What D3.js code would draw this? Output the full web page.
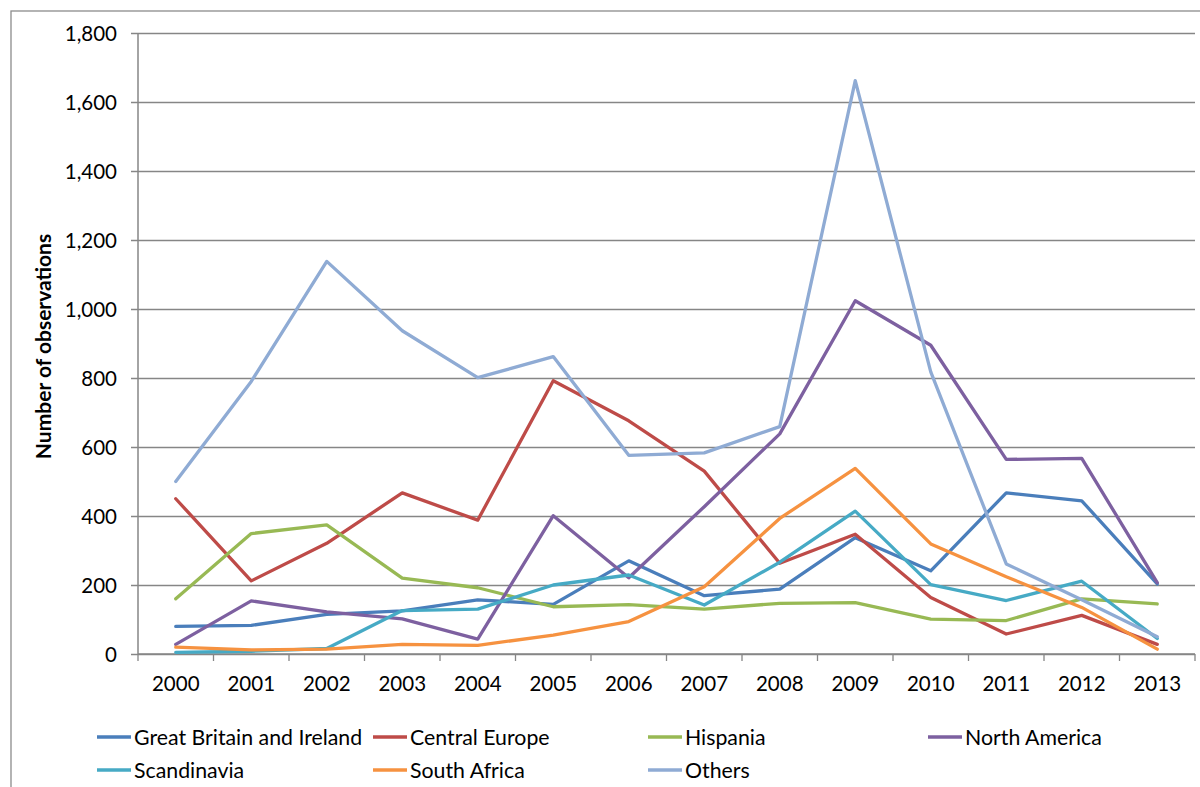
<!DOCTYPE html>
<html>
<head>
<meta charset="utf-8">
<script src="https://cdn.jsdelivr.net/npm/d3@7"></script>
<style>
  html, body { margin: 0; padding: 0; background: #fff; }
  svg { display: block; font-family: Lato, "Open Sans", sans-serif; }
</style>
</head>
<body>
<svg id="chart" width="1200" height="787"></svg>
<script>
// Observations per region, 2000–2013
const years = ["2000","2001","2002","2003","2004","2005","2006","2007","2008","2009","2010","2011","2012","2013"];
const seriesNames = ["Great Britain and Ireland","Central Europe","Hispania","North America","Scandinavia","South Africa","Others"];
const seriesColors = ["#4A7EBB","#BE4B48","#98B954","#7D60A0","#46AAC5","#F69240","#8FABD4"];

const greatBritainIreland = [80, 83, 115, 125, 157, 144, 270, 169, 188, 337, 241, 467, 444, 203];
const centralEurope       = [450, 212, 321, 467, 388, 792, 676, 530, 263, 347, 164, 58, 112, 28];
const hispania            = [160, 349, 374, 220, 192, 137, 143, 130, 147, 149, 101, 97, 160, 145];
const northAmerica        = [28, 154, 122, 102, 43, 401, 221, 427, 638, 1024, 895, 564, 567, 207];
const scandinavia         = [5, 8, 16, 126, 130, 200, 229, 142, 266, 414, 201, 155, 211, 45];
const southAfrica         = [20, 12, 14, 28, 25, 55, 94, 195, 393, 538, 319, 224, 135, 14];
const others              = [500, 790, 1138, 937, 801, 862, 576, 583, 659, 1662, 818, 261, 157, 50];

const yTicks = [0, 200, 400, 600, 800, 1000, 1200, 1400, 1600, 1800];
const yTitle = "Number of observations";

const seriesValues = [greatBritainIreland, centralEurope, hispania, northAmerica, scandinavia, southAfrica, others];
const series = seriesNames.map((name, i) => ({ name, color: seriesColors[i], values: seriesValues[i] }));

const svg = d3.select("#chart");
const plot = { left: 138, right: 1195, top: 33, bottom: 654 };
const axisGrey = "#868686";
const labelSize = 20.5;

// Outer chart border
svg.append("rect")
  .attr("x", 11).attr("y", 11)
  .attr("width", 1210).attr("height", 800)
  .attr("fill", "none").attr("stroke", "#8c8c8c").attr("stroke-width", 1.3);

const x = d3.scaleBand().domain(years).range([plot.left, plot.right]).padding(0);
const y = d3.scaleLinear().domain([0, 1800]).range([plot.bottom, plot.top]);
const cx = d => x(d) + x.bandwidth() / 2;

// Horizontal gridlines with short outer ticks and labels
const yAxis = d3.axisLeft(y)
  .tickValues(yTicks)
  .tickFormat(d3.format(","))
  .tickSize(-(plot.right - plot.left))
  .tickPadding(21);

const gy = svg.append("g")
  .attr("transform", `translate(${plot.left},0)`)
  .call(yAxis);
gy.select(".domain").remove();
gy.selectAll(".tick line")
  .attr("x1", -7)
  .attr("stroke", axisGrey).attr("stroke-width", 1.3);
gy.selectAll(".tick text")
  .attr("fill", "#000").attr("font-size", labelSize).attr("font-family", "Lato, sans-serif")
  .attr("dy", "0.36em");

// Vertical axis line
svg.append("line")
  .attr("x1", plot.left).attr("x2", plot.left)
  .attr("y1", plot.top).attr("y2", plot.bottom)
  .attr("stroke", axisGrey).attr("stroke-width", 1.5);

// Category axis: ticks on band boundaries, labels centred in bands
const gx = svg.append("g").attr("transform", `translate(0,${plot.bottom})`);
gx.append("line")
  .attr("x1", plot.left).attr("x2", plot.right)
  .attr("stroke", axisGrey).attr("stroke-width", 1.5);
gx.selectAll("line.tk")
  .data(years.concat(["end"]))
  .join("line")
  .attr("class", "tk")
  .attr("x1", (d, i) => i < years.length ? x(d) : plot.right)
  .attr("x2", (d, i) => i < years.length ? x(d) : plot.right)
  .attr("y1", 0).attr("y2", 7)
  .attr("stroke", axisGrey).attr("stroke-width", 1.3);
gx.selectAll("text")
  .data(years)
  .join("text")
  .attr("x", d => cx(d))
  .attr("y", 37)
  .attr("text-anchor", "middle")
  .attr("font-size", labelSize)
  .attr("fill", "#000")
  .text(d => d);

// Axis title
svg.append("text")
  .attr("transform", `translate(51,${(plot.top + plot.bottom) / 2 + 3}) rotate(-90)`)
  .attr("text-anchor", "middle")
  .attr("font-size", 21)
  .attr("font-weight", "bold")
  .attr("fill", "#000")
  .text(yTitle);

// Series lines
const line = d3.line()
  .x((d, i) => cx(years[i]))
  .y(d => y(d));

svg.append("g")
  .selectAll("path")
  .data(series)
  .join("path")
  .attr("d", s => line(s.values))
  .attr("fill", "none")
  .attr("stroke", s => s.color)
  .attr("stroke-width", 3.3)
  .attr("stroke-linejoin", "round")
  .attr("stroke-linecap", "round");

// Legend: four columns, two rows
const legendCols = [97, 373, 648, 928];
const legendRows = [737, 770];
const legend = svg.append("g")
  .selectAll("g")
  .data(series)
  .join("g")
  .attr("transform", (s, i) => `translate(${legendCols[i % 4]},${legendRows[Math.floor(i / 4)]})`);
legend.append("line")
  .attr("x1", 0).attr("x2", 34)
  .attr("stroke", s => s.color)
  .attr("stroke-width", 3.5);
legend.append("text")
  .attr("x", 37)
  .attr("dy", "0.36em")
  .attr("font-size", 21.3)
  .attr("fill", "#000")
  .text(s => s.name);
</script>
</body>
</html>
